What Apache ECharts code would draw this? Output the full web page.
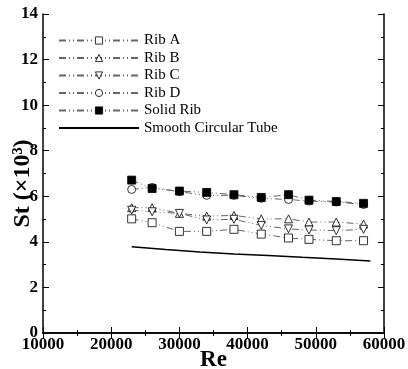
<!DOCTYPE html>
<html><head><meta charset="utf-8">
<script src="https://cdn.jsdelivr.net/npm/echarts@6/dist/echarts.min.js"></script>
<style>html,body{margin:0;padding:0;background:#fff}#c{width:408px;height:369px}</style>
</head><body><div id="c"></div>
<script>
const re = [23000, 26000, 30000, 34000, 38000, 42000, 46000, 49000, 53000, 57000];
const ribA = [5.01, 4.84, 4.46, 4.46, 4.55, 4.34, 4.17, 4.11, 4.05, 4.05];
const ribB = [5.50, 5.50, 5.25, 5.13, 5.16, 5.01, 5.01, 4.87, 4.87, 4.78];
const ribC = [5.39, 5.32, 5.25, 4.96, 4.99, 4.72, 4.57, 4.52, 4.49, 4.55];
const ribD = [6.30, 6.39, 6.20, 6.04, 6.04, 5.91, 5.86, 5.79, 5.75, 5.64];
const solid = [6.71, 6.34, 6.23, 6.17, 6.07, 5.95, 6.07, 5.83, 5.77, 5.69];
const smoothRe = [23000, 28000, 33000, 38000, 43000, 48000, 53000, 58000];
const smoothSt = [3.78, 3.66, 3.56, 3.47, 3.40, 3.32, 3.25, 3.16];
const xTicks = [10000, 20000, 30000, 40000, 50000, 60000];
const yTicks = [0, 2, 4, 6, 8, 10, 12, 14];

const serif = 'Liberation Serif';
const dash = [7, 3, 1, 3, 1, 3];
function pts(xs, ys) { return xs.map((x, i) => [x, ys[i]]); }
function ribSeries(name, ys, symbol, rot, fill) {
  return {
    name, type: 'line', data: pts(re, ys), symbol, symbolSize: 8, symbolRotate: rot,
    lineStyle: { color: '#666', width: 1, type: dash },
    itemStyle: { color: fill, borderColor: '#000', borderWidth: 0.8 },
    emphasis: { disabled: true }, z: 3
  };
}
const axisCommon = {
  axisLine: { show: true, lineStyle: { color: '#000', width: 1.5 } },
  axisTick: { show: true, inside: true, length: 6, lineStyle: { color: '#000', width: 1 } },
  minorTick: { show: true, splitNumber: 2, length: 3, lineStyle: { color: '#000', width: 1 } },
  splitLine: { show: false }
};
const chart = echarts.init(document.getElementById('c'), null, { renderer: 'canvas' });
chart.setOption({
  animation: false,
  backgroundColor: '#fff',
  grid: { left: 43, right: 24, top: 14, bottom: 36, containLabel: false, outerBoundsMode: 'none' },
  legend: {
    orient: 'vertical', left: 53, top: 28, itemWidth: 80, itemHeight: 9, itemGap: 2.5,
    itemStyle: { borderWidth: 0.8 },
    textStyle: { fontFamily: serif, fontSize: 15, color: '#000', padding: [0, 0, 0, 0] },
    data: ['Rib A', 'Rib B', 'Rib C', 'Rib D', 'Solid Rib',
      { name: 'Smooth Circular Tube', itemStyle: { opacity: 0 } }]
  },
  xAxis: [
    Object.assign({
      type: 'value', min: 10000, max: 60000, interval: 10000, position: 'bottom',
      name: 'Re', nameLocation: 'middle', nameGap: 16, nameMoveOverlap: false,
      nameTextStyle: { fontFamily: serif, fontWeight: 'bold', fontSize: 23, color: '#000' },
      axisLabel: { fontFamily: serif, fontWeight: 'bold', fontSize: 17, color: '#000', margin: 3,
        formatter: v => xTicks.includes(v) ? String(v) : '' }
    }, axisCommon),
    Object.assign({ type: 'value', min: 10000, max: 60000, interval: 10000, position: 'top',
      axisLabel: { show: false } }, axisCommon)
  ],
  yAxis: [
    Object.assign({
      type: 'value', min: 0, max: 14, interval: 2, position: 'left',
      name: 'St (×10³)', nameLocation: 'middle', nameGap: 8, nameRotate: 90, nameMoveOverlap: false,
      nameTextStyle: { fontFamily: serif, fontWeight: 'bold', fontSize: 24, color: '#000', padding: [0, 20, 0, 0] },
      axisLabel: { fontFamily: serif, fontWeight: 'bold', fontSize: 17, color: '#000', margin: 5,
        formatter: v => yTicks.includes(v) ? String(v) : '' }
    }, axisCommon),
    Object.assign({ type: 'value', min: 0, max: 14, interval: 2, position: 'right',
      axisLabel: { show: false } }, axisCommon)
  ],
  series: [
    ribSeries('Rib A', ribA, 'rect', 0, '#fff'),
    ribSeries('Rib B', ribB, 'triangle', 0, '#fff'),
    ribSeries('Rib C', ribC, 'triangle', 180, '#fff'),
    ribSeries('Rib D', ribD, 'circle', 0, '#fff'),
    ribSeries('Solid Rib', solid, 'rect', 0, '#000'),
    { name: 'Smooth Circular Tube', type: 'line', data: pts(smoothRe, smoothSt), showSymbol: false, symbol: 'none',
      lineStyle: { color: '#000', width: 1.5 }, itemStyle: { color: '#000' }, emphasis: { disabled: true } }
  ]
});
</script></body></html>
